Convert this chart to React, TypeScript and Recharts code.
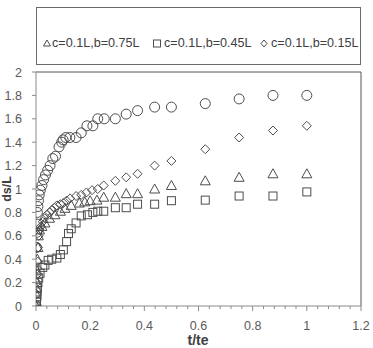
import { ScatterChart, Scatter, XAxis, YAxis, ReferenceLine } from "recharts";

// ─── Data ────────────────────────────────────────────────────────────────────

type Pt = { t: number; v: number };

const toPts = (rows: number[][]): Pt[] => rows.map(([t, v]) => ({ t, v }));

// upper series (circles, not listed in the legend)
const circleRows = [
  [0, 0], [0.002, 0.5], [0.003, 0.63], [0.004, 0.7], [0.005, 0.8], [0.007, 0.85],
  [0.009, 0.9], [0.012, 0.95], [0.016, 0.99], [0.022, 1.03], [0.028, 1.08],
  [0.035, 1.12], [0.043, 1.16], [0.052, 1.2], [0.062, 1.26], [0.072, 1.28],
  [0.085, 1.36], [0.095, 1.4], [0.1, 1.42], [0.11, 1.44], [0.125, 1.44],
  [0.148, 1.44], [0.167, 1.48], [0.188, 1.54], [0.21, 1.54], [0.228, 1.6],
  [0.252, 1.6], [0.293, 1.6], [0.333, 1.64], [0.375, 1.67], [0.438, 1.7],
  [0.5, 1.7], [0.625, 1.73], [0.75, 1.77], [0.875, 1.8], [1.0, 1.8],
];

// c=0.1L, b=0.75L
const triangleRows = [
  [0, 0], [0.001, 0.1], [0.002, 0.15], [0.003, 0.2], [0.004, 0.3], [0.005, 0.4],
  [0.007, 0.5], [0.009, 0.6], [0.013, 0.65], [0.022, 0.68], [0.033, 0.71],
  [0.05, 0.75], [0.07, 0.78], [0.09, 0.81], [0.107, 0.835], [0.13, 0.86],
  [0.16, 0.88], [0.18, 0.89], [0.2, 0.9], [0.225, 0.905], [0.25, 0.93],
  [0.293, 0.93], [0.333, 0.96], [0.375, 0.96], [0.438, 1.0], [0.5, 1.03],
  [0.625, 1.07], [0.75, 1.1], [0.875, 1.13], [1.0, 1.13],
];

// c=0.1L, b=0.45L
const squareRows = [
  [0, 0], [0.002, 0.04], [0.003, 0.08], [0.004, 0.12], [0.005, 0.16], [0.007, 0.2],
  [0.01, 0.24], [0.015, 0.28], [0.025, 0.33], [0.033, 0.35], [0.045, 0.39],
  [0.058, 0.4], [0.077, 0.41], [0.09, 0.44], [0.101, 0.48], [0.113, 0.55],
  [0.12, 0.62], [0.13, 0.66], [0.148, 0.71], [0.167, 0.77], [0.19, 0.78],
  [0.21, 0.8], [0.228, 0.81], [0.25, 0.81], [0.293, 0.84], [0.333, 0.84],
  [0.375, 0.87], [0.438, 0.87], [0.5, 0.9], [0.625, 0.905], [0.75, 0.94],
  [0.875, 0.94], [1.0, 0.975],
];

// c=0.1L, b=0.15L
const diamondRows = [
  [0, 0], [0.002, 0.1], [0.003, 0.2], [0.004, 0.27], [0.005, 0.32], [0.006, 0.38],
  [0.008, 0.5], [0.01, 0.6], [0.013, 0.65], [0.018, 0.68], [0.025, 0.72],
  [0.032, 0.75], [0.04, 0.78], [0.05, 0.8], [0.058, 0.82], [0.068, 0.84],
  [0.077, 0.86], [0.09, 0.87], [0.101, 0.88], [0.113, 0.9], [0.126, 0.92],
  [0.148, 0.94], [0.167, 0.95], [0.186, 0.97], [0.207, 0.99], [0.228, 1.0],
  [0.25, 1.03], [0.293, 1.07], [0.333, 1.1], [0.375, 1.13], [0.438, 1.2],
  [0.5, 1.24], [0.625, 1.34], [0.75, 1.44], [0.875, 1.5], [1.0, 1.54],
];

const X_TICKS = [
  0, 0.04, 0.08, 0.12, 0.16, 0.2, 0.24, 0.28, 0.32, 0.36, 0.4, 0.44, 0.48, 0.52,
  0.56, 0.6, 0.64, 0.68, 0.72, 0.76, 0.8, 0.84, 0.88, 0.92, 0.96, 1, 1.04, 1.08,
  1.12, 1.16, 1.2,
];
const Y_TICKS = [0, 0.2, 0.4, 0.6, 0.8, 1, 1.2, 1.4, 1.6, 1.8, 2];

const LEGEND_LABELS = ["c=0.1L,b=0.75L", "c=0.1L,b=0.45L", "c=0.1L,b=0.15L"];

// ─── Styling ─────────────────────────────────────────────────────────────────

const MARK = "#4d4d4d";
const AXIS = "#8a8a8a";
const TEXT = "#595959";
const FONT = "'Liberation Sans', Arial, sans-serif";

// ─── Marker shapes ───────────────────────────────────────────────────────────

const CircleMark = (p: any) => (
  <circle cx={p.cx} cy={p.cy} r={5} fill="none" stroke={MARK} strokeWidth={1} />
);

const TriangleMark = (p: any) => (
  <polygon
    points={`${p.cx},${p.cy - 5} ${p.cx + 5},${p.cy + 4} ${p.cx - 5},${p.cy + 4}`}
    fill="none"
    stroke={MARK}
    strokeWidth={1}
  />
);

const SquareMark = (p: any) => (
  <rect x={p.cx - 4} y={p.cy - 4} width={8} height={8} fill="none" stroke={MARK} strokeWidth={1} />
);

const DiamondMark = (p: any) => (
  <polygon
    points={`${p.cx},${p.cy - 4.5} ${p.cx + 4.5},${p.cy} ${p.cx},${p.cy + 4.5} ${p.cx - 4.5},${p.cy}`}
    fill="none"
    stroke={MARK}
    strokeWidth={1}
  />
);

// ─── Axis ticks ──────────────────────────────────────────────────────────────

function XTick({ x, y, payload }: any) {
  const v = payload.value as number;
  const major = Math.abs(v * 5 - Math.round(v * 5)) < 1e-6;
  return (
    <g>
      <line x1={x} x2={x} y1={y} y2={y + (major ? 5 : 3)} stroke={AXIS} />
      {major && (
        <text x={x} y={y + 24} textAnchor="middle" fontSize={12.5} fill={TEXT} fontFamily={FONT}>
          {String(Math.round(v * 10) / 10)}
        </text>
      )}
    </g>
  );
}

function YTick({ x, y, payload }: any) {
  const v = payload.value as number;
  return (
    <g>
      <line x1={x - 4} x2={x} y1={y} y2={y} stroke={AXIS} />
      <text x={x - 14} y={y + 4.5} textAnchor="end" fontSize={12.5} fill={TEXT} fontFamily={FONT}>
        {String(Math.round(v * 10) / 10)}
      </text>
    </g>
  );
}

// ─── Legend (boxed, above the plot) ──────────────────────────────────────────

function LegendBox() {
  const sym = (kind: number) => {
    if (kind === 0)
      return <polygon points="4,1 7.5,7 0.5,7" fill="none" stroke={MARK} />;
    if (kind === 1) return <rect x={0.5} y={1} width={7} height={7} fill="none" stroke={MARK} />;
    return <polygon points="4,1 7,4.5 4,8 1,4.5" fill="none" stroke={MARK} />;
  };
  const items = [
    { sx: 6, tx: 15 },
    { sx: 116, tx: 127 },
    { sx: 223, tx: 234 },
  ];
  return (
    <div
      style={{
        position: "absolute",
        left: 36,
        top: 7,
        width: 325,
        height: 58,
        boxSizing: "border-box",
        border: "1px solid #6a6a6a",
        background: "#fff",
        fontFamily: FONT,
        fontSize: 12.6,
        color: "#404040",
      }}
    >
      {items.map((it, i) => (
        <div key={i}>
          <svg
            width={9}
            height={9}
            style={{ position: "absolute", left: it.sx, top: 31 }}
          >
            {sym(i)}
          </svg>
          <span
            style={{
              position: "absolute",
              left: it.tx,
              top: 28,
              lineHeight: "15px",
              whiteSpace: "nowrap",
            }}
          >
            {LEGEND_LABELS[i]}
          </span>
        </div>
      ))}
    </div>
  );
}

// ─── Chart ───────────────────────────────────────────────────────────────────

export default function App() {
  return (
    <div style={{ position: "absolute", left: 0, top: 0, width: 373, height: 348, background: "#fff" }}>
      <ScatterChart
        width={373}
        height={348}
        margin={{ top: 72, right: 12, bottom: 12, left: 0 }}
      >
        <XAxis
          type="number"
          dataKey="t"
          domain={[0, 1.2]}
          ticks={X_TICKS}
          interval={0}
          tick={<XTick />}
          tickLine={false}
          tickSize={0}
          tickMargin={0}
          axisLine={{ stroke: AXIS }}
          height={30}
          allowDataOverflow
        />
        <YAxis
          type="number"
          dataKey="v"
          domain={[0, 2]}
          ticks={Y_TICKS}
          interval={0}
          tick={<YTick />}
          tickLine={false}
          tickSize={0}
          tickMargin={0}
          axisLine={{ stroke: AXIS }}
          width={36}
          allowDataOverflow
        />
        <ReferenceLine y={2} stroke="#555" strokeWidth={1} />
        <ReferenceLine x={1.2} stroke="#555" strokeWidth={1} />
        <Scatter data={toPts(circleRows)} shape={CircleMark} isAnimationActive={false} />
        <Scatter data={toPts(triangleRows)} shape={TriangleMark} isAnimationActive={false} />
        <Scatter data={toPts(squareRows)} shape={SquareMark} isAnimationActive={false} />
        <Scatter data={toPts(diamondRows)} shape={DiamondMark} isAnimationActive={false} />
        <text
          x={198}
          y={345}
          textAnchor="middle"
          fontSize={14}
          fontWeight="bold"
          fill="#404040"
          fontFamily={FONT}
        >
          t/te
        </text>
        <text
          x={11}
          y={189}
          textAnchor="middle"
          fontSize={12.5}
          fontWeight="bold"
          fill="#404040"
          fontFamily={FONT}
          transform="rotate(-90 11 189)"
        >
          ds/L
        </text>
      </ScatterChart>
      <LegendBox />
    </div>
  );
}
